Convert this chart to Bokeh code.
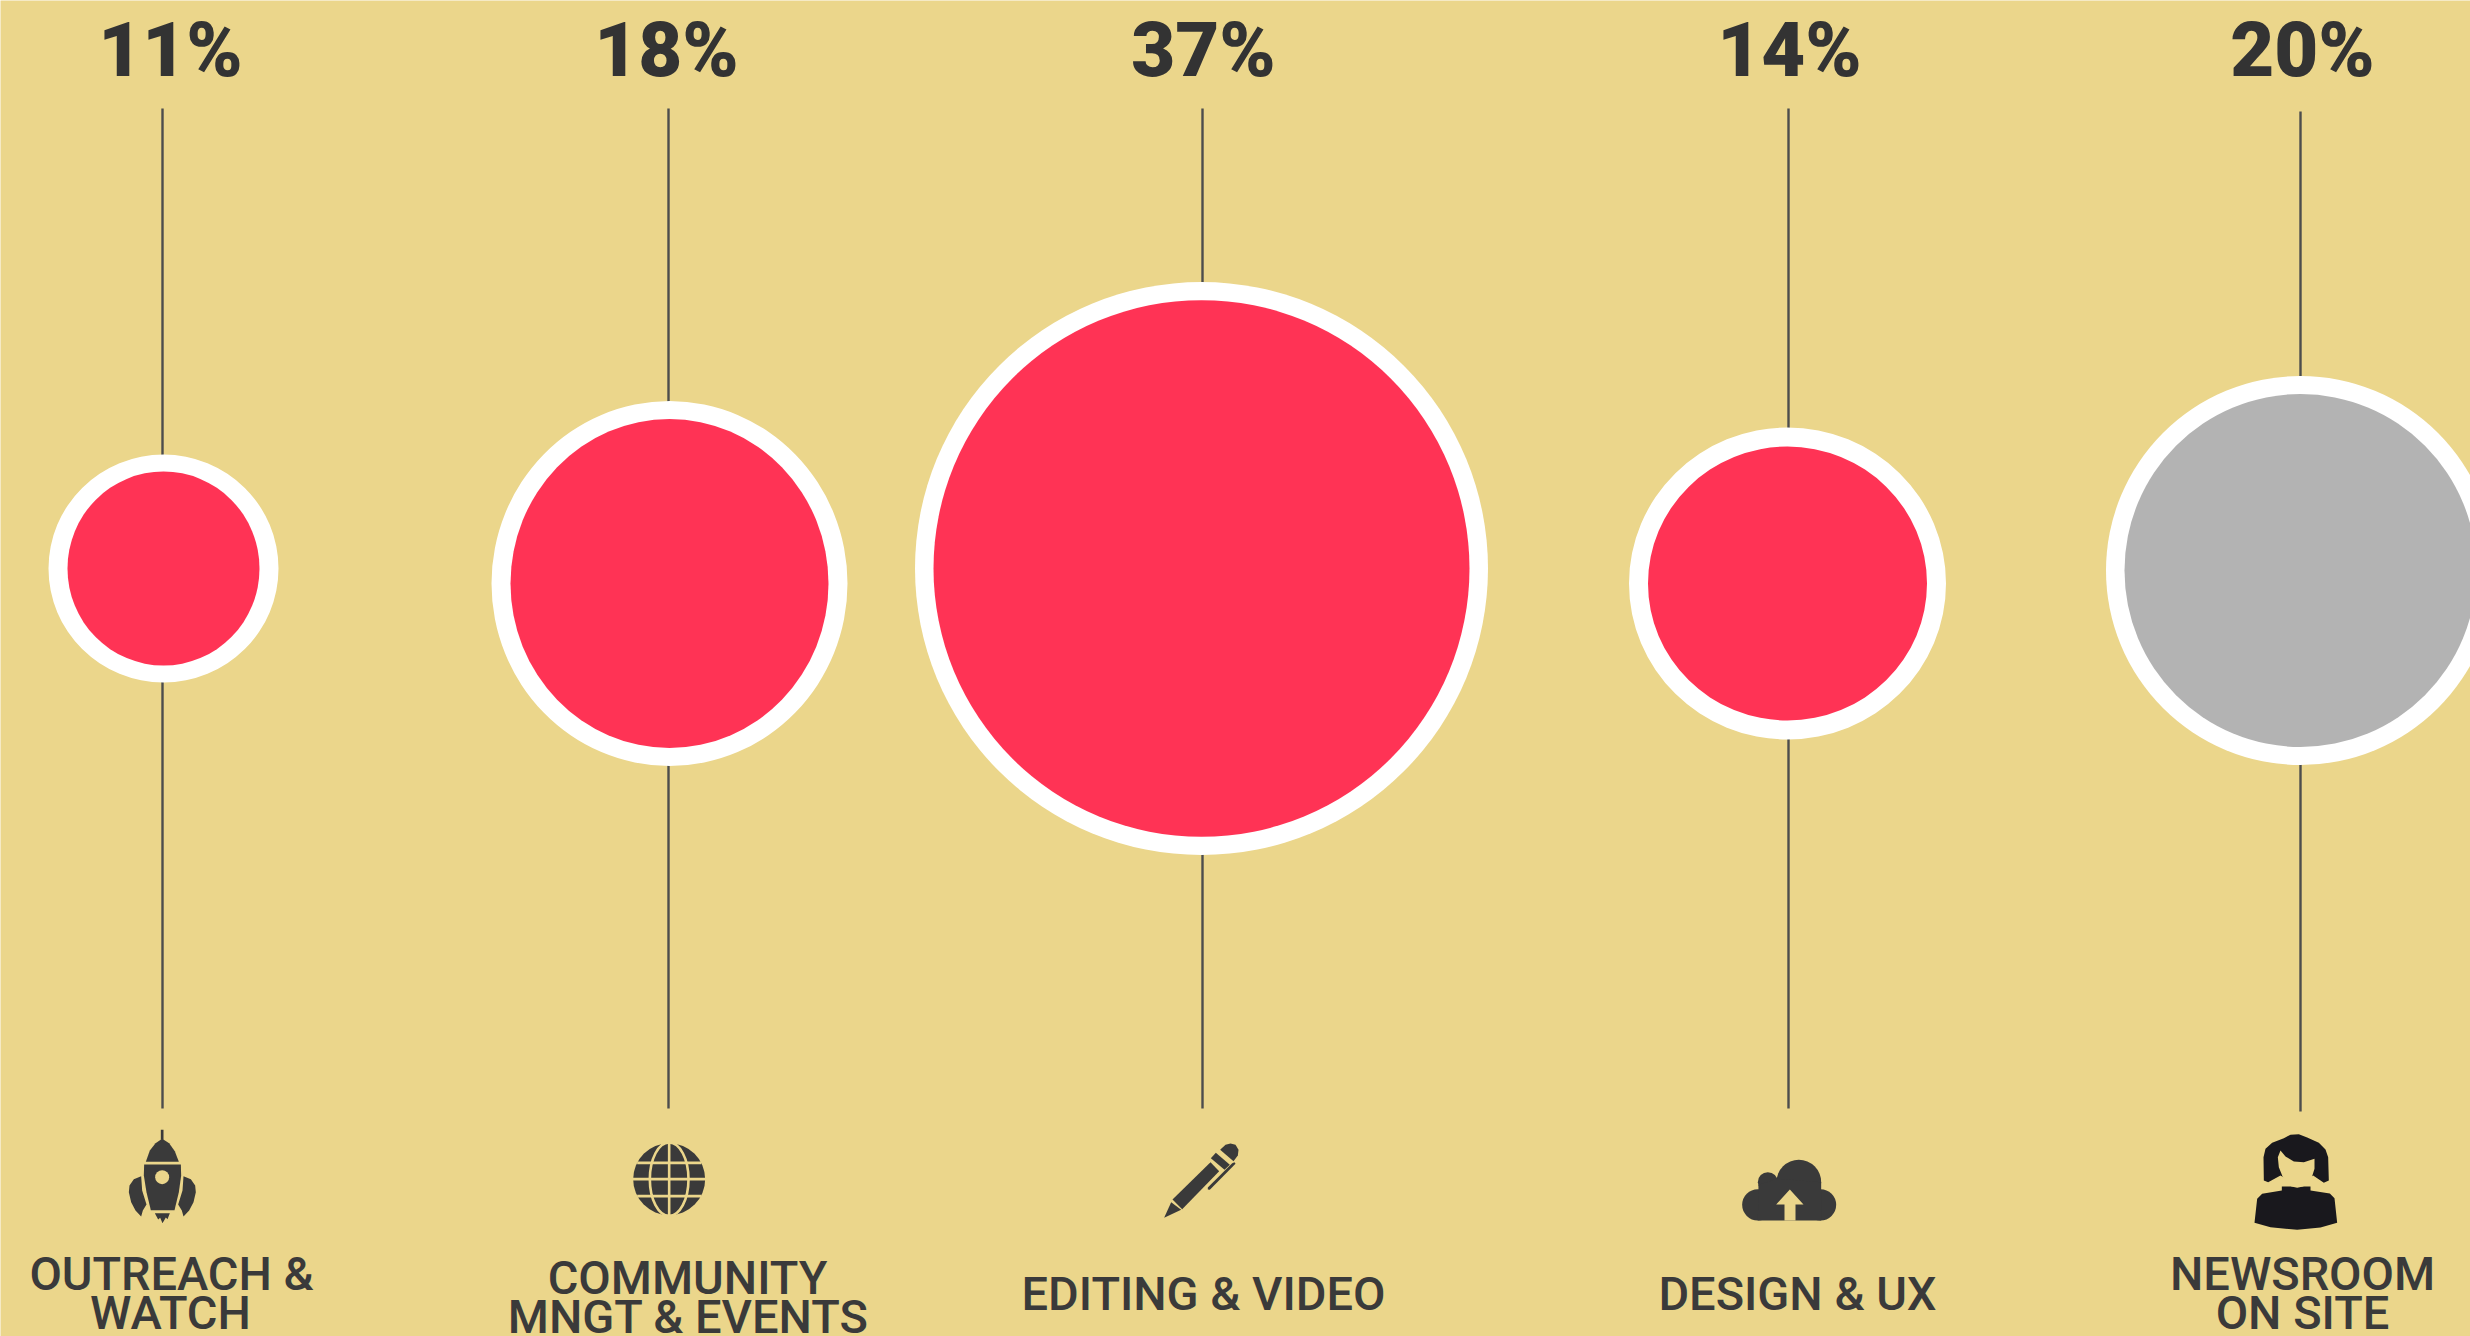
from bokeh.plotting import figure
from bokeh.core.properties import value
from bokeh.embed import file_html
from bokeh.resources import INLINE

# ---- data ----
shares = [11, 18, 37, 14, 20]
share_labels = ["11%", "18%", "37%", "14%", "20%"]
share_label_x = [170, 666, 1203, 1789, 2302]
column_x = [162, 668, 1202, 1788, 2300]
line_top = [108, 108, 108, 108, 111]
line_bottom = [1108, 1108, 1108, 1108, 1111]

bubble_x = [163, 669, 1201, 1787, 2300]
bubble_y = [568, 583, 568, 583, 570]
outer_w = [230, 356, 573, 317, 389]
outer_h = [228, 365, 573, 312, 389]
inner_w = [192, 318, 536, 279, 352]
inner_h = [194, 329, 537, 274, 353]
bubble_colors = ["#FF3355", "#FF3355", "#FF3355", "#FF3355", "#B3B3B3"]

label_lines = ["OUTREACH &", "WATCH", "COMMUNITY", "MNGT & EVENTS", "EDITING & VIDEO",
               "DESIGN & UX", "NEWSROOM", "ON SITE"]
label_x = [171, 170, 687, 688, 1203, 1797, 2302, 2302]
label_y = [1290, 1329, 1294, 1333, 1310, 1310, 1290, 1329]

BG = "#EBD68B"
DARK = "#3A3A3A"
BLACK = "#19181D"

p = figure(width=2470, height=1336, x_range=(0, 2470), y_range=(1336, 0),
           output_backend="svg", toolbar_location=None, min_border=0,
           background_fill_color=BG, border_fill_color=BG, outline_line_color=None)
p.axis.visible = False
p.grid.visible = False

p.segment(column_x, line_top, column_x, line_bottom, line_color="#4D4D4D", line_width=2.4)
p.ellipse(bubble_x, bubble_y, width=outer_w, height=outer_h, fill_color="white", line_color=None)
p.ellipse(bubble_x, bubble_y, width=inner_w, height=inner_h, fill_color=bubble_colors, line_color=None)

p.text(share_label_x, [76] * 5, text=share_labels, text_font=value("Roboto Black"),
       text_font_size="76px", text_color="#333333", y_offset=-27,
       text_align="center", text_baseline="alphabetic")
p.text(label_x, label_y, text=label_lines, text_font=value("Roboto Medium"), text_font_size="47px",
       text_color=DARK, y_offset=-17, text_align="center", text_baseline="alphabetic")


# ---- icons: outlines traced on 3x crops, given as (crop origin, outline) ----
def place(origin, pts):
    return [origin[0] + a / 3 for a, _ in pts], [origin[1] + b / 3 for _, b in pts]


def draw(origin, polys, color):
    xs, ys = zip(*[place(origin, q) for q in polys])
    p.patches(list(xs), list(ys), fill_color=color, line_color=None)


def disc(origin, cx, cy, r, color):
    p.ellipse([origin[0] + cx / 3], [origin[1] + cy / 3], width=2 * r / 3, height=2 * r / 3,
              fill_color=color, line_color=None)


ROCKET = (110, 1120)
draw(ROCKET, [
    [(151, 28), (159, 28), (159, 58), (151, 58)],
    [(155, 55), (135, 68), (118, 90), (106, 124), (205, 124), (193, 92), (176, 68)],
    [(101, 132), (211, 132), (212, 165), (205, 215), (192, 269), (121, 269), (108, 215), (100, 165)],
    [(92, 167), (70, 176), (57, 195), (55, 215), (62, 245), (75, 270), (92, 288), (97, 270), (108, 252), (95, 210)],
    [(219, 167), (241, 176), (254, 195), (256, 215), (249, 245), (236, 270), (219, 288), (214, 270), (203, 252), (216, 210)],
    [(133, 278), (178, 278), (171, 296), (166, 291), (156, 308), (149, 292), (143, 297)],
], DARK)
disc(ROCKET, 155, 170, 21, BG)

GLOBE = (620, 1130)
disc(GLOBE, 146, 146, 108, DARK)
p.ellipse([GLOBE[0] + 146 / 3], [GLOBE[1] + 146 / 3], width=2 * 58 / 3, height=2 * 110 / 3,
          fill_color=None, line_color=BG, line_width=2.6)
p.segment([GLOBE[0] + a / 3 for a in (146, 50, 35, 50)], [GLOBE[1] + b / 3 for b in (35, 97, 146, 197)],
          [GLOBE[0] + a / 3 for a in (146, 242, 257, 242)], [GLOBE[1] + b / 3 for b in (257, 97, 146, 197)],
          line_color=BG, line_width=2.6)

PEN = (1150, 1130)
draw(PEN, [
    [(41, 262), (62, 215), (92, 238)],
    [(66, 207), (180, 95), (206, 122), (95, 236)],
    [(181, 83), (196, 67), (238, 103), (222, 118)],
    [(209, 58), (225, 43), (240, 39), (255, 43), (264, 58), (262, 75), (249, 92)],
    [(172, 171), (245, 98), (252, 95), (255, 100), (178, 178), (172, 177)],
], DARK)

CLOUD = (1730, 1145)
for cx, cy, r in [(205, 110, 67), (112, 110, 30), (82, 178, 47), (270, 178, 47)]:
    disc(CLOUD, cx, cy, r, DARK)
draw(CLOUD, [[(84, 118), (142, 100), (272, 110), (272, 225), (82, 225)]], DARK)
draw(CLOUD, [[(178, 132), (219, 177), (195, 177), (195, 225), (162, 225), (162, 177), (137, 177)]], BG)

PERSON = (2240, 1125)
draw(PERSON, [
    [(70, 165), (69, 95), (75, 70), (95, 52), (130, 38), (150, 28), (175, 26), (200, 36), (235, 52), (255, 72),
     (263, 95), (265, 165), (250, 172), (218, 150), (170, 180), (120, 150), (83, 170)],
    [(124, 183), (210, 183), (210, 195), (268, 204), (282, 218), (290, 292),
     (240, 306), (170, 313), (90, 305), (42, 292), (50, 220), (65, 205), (124, 195)],
], BLACK)
draw(PERSON, [[(120, 75), (135, 93), (160, 108), (190, 110), (222, 100), (222, 130), (214, 155), (202, 172),
               (188, 183), (170, 187), (153, 183), (140, 172), (127, 155), (115, 125), (112, 95)]], BG)

open("out.html", "w").write(file_html(p, INLINE))
